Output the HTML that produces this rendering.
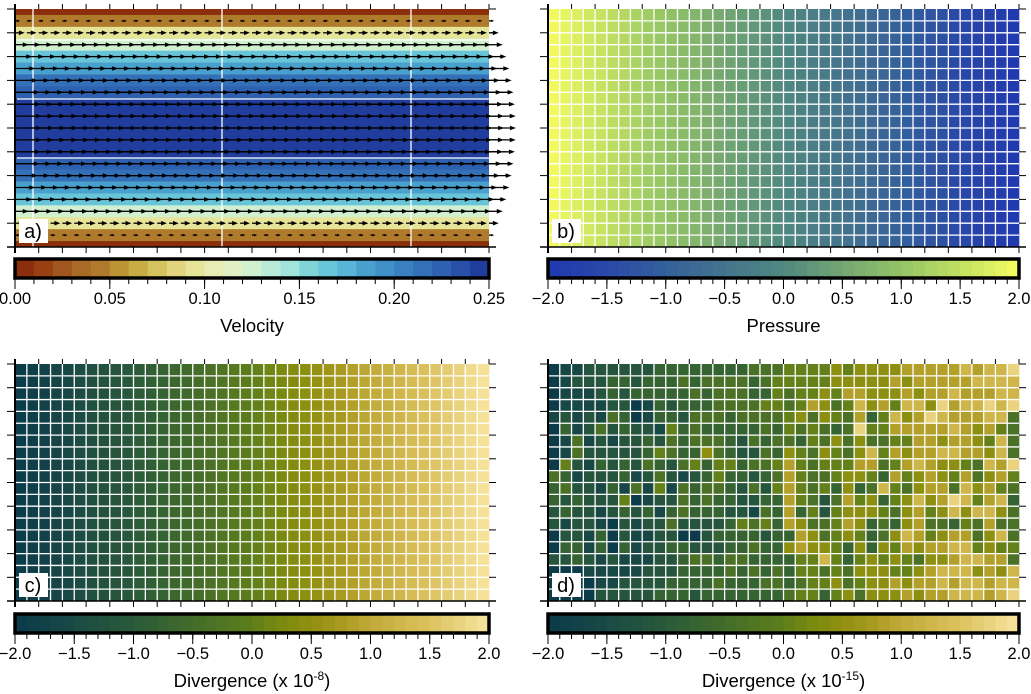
<!DOCTYPE html>
<html><head><meta charset="utf-8">
<style>
html,body{margin:0;padding:0;background:#fff;width:1031px;height:694px;overflow:hidden}
svg{display:block;font-family:"Liberation Sans",Arial,sans-serif}
</style></head>
<body>
<svg id="fig" width="1031" height="694" viewBox="0 0 1031 694" xmlns="http://www.w3.org/2000/svg"></svg>
<script>
// ---- data ----
const velocityNodes = [0.0,0.0475,0.09,0.1275,0.16,0.1875,0.21,0.2275,0.24,0.2475,0.25,0.2475,0.24,0.2275,0.21,0.1875,0.16,0.1275,0.09,0.0475,0.0];
const pressureCols = [1.95,1.85,1.75,1.65,1.55,1.45,1.35,1.25,1.15,1.05,0.95,0.85,0.75,0.65,0.55,0.45,0.35,0.25,0.15,0.05,-0.05,-0.15,-0.25,-0.35,-0.45,-0.55,-0.65,-0.75,-0.85,-0.95,-1.05,-1.15,-1.25,-1.35,-1.45,-1.55,-1.65,-1.75,-1.85,-1.95];
const divCols = [-1.95,-1.85,-1.75,-1.65,-1.55,-1.45,-1.35,-1.25,-1.15,-1.05,-0.95,-0.85,-0.75,-0.65,-0.55,-0.45,-0.35,-0.25,-0.15,-0.05,0.05,0.15,0.25,0.35,0.45,0.55,0.65,0.75,0.85,0.95,1.05,1.15,1.25,1.35,1.45,1.55,1.65,1.75,1.85,1.95];
const noisyRows = [
"0112222223333333344455556566667777787889",
"0122233233343444434555556666676777778888",
"0111232333334344433545565776667677877788",
"0111122013233344445545764586758869788989",
"1212143013324443444456465473586798777884",
"0312423221534333334354543495577777876754",
"0141212232434443243443546464455776776584",
"0142222235433643224365465468576778877684",
"0521323243245355344575455577457876654879",
"4312223124212353323475445665375676574675",
"3422131415143443242575453634854677486754",
"3232225012243433223375424756356867985783",
"2322123231343332214373525666546756868864",
"2122102122422223545376445763436744354744",
"0221302112200233332337645653468756774684",
"0331303122332223343367665363657677885655",
"2232121112234434433335585356565466788774",
"0001111122233334343435545466655678886768",
"0000112222333343334434556456676778788788",
"0000222223332333333345535646667677888789"];
const velTicks = ["0.00","0.05","0.10","0.15","0.20","0.25"];
const symTicks = ["\u22122.0","\u22121.5","\u22121.0","\u22120.5","0.0","0.5","1.0","1.5","2.0"];

const velColors = ["#8a2e0c","#984012","#a0561e","#a86a26","#b07a2c","#bc9434","#c8ac44","#d4c460","#e0d47c","#e6e498","#e6ecb4","#e0f0c4","#d0f0d0","#b8ecd8","#a0e4dc","#80d4d8","#68c4d8","#58b4d8","#4aa0cc","#4090c8","#3a80c0","#3470b8","#2e60b0","#2850a8","#203c9c"];
const presStops = [[-2,"#2038b0"],[-1.5,"#2a48a8"],[-1,"#34609c"],[-0.5,"#44748c"],[0,"#508880"],[0.5,"#74a672"],[1,"#94c466"],[1.5,"#c0e062"],[2,"#f8fc60"]];
const divStops = [[-2,"#0a3a4a"],[-1.5,"#1a4a44"],[-1,"#2a5a3a"],[-0.5,"#426c2a"],[0,"#5e7e1c"],[0.25,"#7a8a0e"],[0.5,"#909010"],[0.75,"#a89a20"],[1,"#c0aa38"],[1.5,"#dcc25e"],[2,"#f8e4a0"]];

const S = document.getElementById('fig');
const NS = "http://www.w3.org/2000/svg";
function mk(tag, attrs, parent){const e=document.createElementNS(NS,tag);for(const k in attrs)e.setAttribute(k,attrs[k]);(parent||S).appendChild(e);return e;}
function hex(c){return [1,3,5].map(i=>parseInt(c.substr(i,2),16));}
function interp(stops,v){
  if(v<=stops[0][0])return stops[0][1];
  for(let i=1;i<stops.length;i++){if(v<=stops[i][0]){const t=(v-stops[i-1][0])/(stops[i][0]-stops[i-1][0]);const a=hex(stops[i-1][1]),b=hex(stops[i][1]);return "rgb("+a.map((x,j)=>Math.round(x+(b[j]-x)*t)).join(",")+")";}}
  return stops[stops.length-1][1];
}
function quant(stops,v){const seg=Math.min(39,Math.max(0,Math.floor((v+2)/0.1)));return interp(stops,-2+seg*0.1+0.05);}
function velColor(v){return velColors[Math.min(24,Math.max(0,Math.floor(v/0.01)))];}

const P = {a:{x:15,y:9,w:474,h:238},b:{x:548,y:9,w:471,h:238},c:{x:15,y:364,w:474,h:237},d:{x:548,y:364,w:471,h:237}};
const NC=40, NR=20;

function frameTicks(p,g){
  for(let i=0;i<=20;i++){const x=p.x+i*p.w/20;
    mk('line',{x1:x,y1:p.y,x2:x,y2:p.y-5,stroke:'#000','stroke-width':1},g);
    mk('line',{x1:x,y1:p.y+p.h,x2:x,y2:p.y+p.h+6,stroke:'#000','stroke-width':1},g);}
  for(let i=0;i<=10;i++){const y=p.y+i*p.h/10;
    mk('line',{x1:p.x,y1:y,x2:p.x-8,y2:y,stroke:'#000','stroke-width':1},g);
    mk('line',{x1:p.x+p.w,y1:y,x2:p.x+p.w+7,y2:y,stroke:'#000','stroke-width':1},g);}
  mk('line',{x1:p.x,y1:p.y-5,x2:p.x,y2:p.y+p.h+6,stroke:'#000','stroke-width':2},g);
  mk('line',{x1:p.x-8,y1:p.y+p.h,x2:p.x+p.w+7,y2:p.y+p.h,stroke:'#000','stroke-width':1.5},g);
}
function label(p,t,name){
  const g=mk('g',{});
  
  
  mk('rect',{x:p.x+4,y:p.y+p.h-28,width:29,height:24,fill:'#fff'},g);
  mk('text',{x:p.x+18,y:p.y+p.h-9,'font-size':20,'text-anchor':'middle',fill:'#000'},g).textContent=t;
}
function gridCells(p,colorFn,name){
  const g=mk('g',{});
  
  
  const cw=p.w/NC, ch=p.h/NR;
  for(let r=0;r<NR;r++)for(let c=0;c<NC;c++){
    const cell=mk('rect',{x:p.x+c*cw,y:p.y+r*ch,width:cw+0.3,height:ch+0.3,fill:colorFn(r,c)},g);
    
    
  }
  for(let c=1;c<NC;c++)mk('line',{x1:p.x+c*cw,y1:p.y,x2:p.x+c*cw,y2:p.y+p.h,stroke:'#fff','stroke-width':1.3},g);
  for(let r=1;r<NR;r++)mk('line',{x1:p.x,y1:p.y+r*ch,x2:p.x+p.w,y2:p.y+r*ch,stroke:'#fff','stroke-width':1.3},g);
  frameTicks(p,g);
}
function colorbar(x,y,w,n,colorFn,ticks,minorN,title,name,sup){
  const g=mk('g',{});
  
  
  const h=19, sw=w/n;
  for(let i=0;i<n;i++)mk('rect',{x:x+i*sw,y:y,width:sw+0.4,height:h,fill:colorFn(i)},g);
  mk('rect',{x:x,y:y,width:w,height:h,fill:'none',stroke:'#000','stroke-width':3.5},g);
  for(let i=0;i<=minorN;i++){const tx=x+i*w/minorN;mk('line',{x1:tx,y1:y+h+1,x2:tx,y2:y+h+6,stroke:'#000','stroke-width':1},g);}
  const nt=ticks.length;
  ticks.forEach((t,i)=>{const tx=x+i*w/(nt-1);
    mk('line',{x1:tx,y1:y+h+1,x2:tx,y2:y+h+11,stroke:'#000','stroke-width':1},g);
    const tl=mk('text',{x:tx,y:y+h+26,'font-size':16.5,'text-anchor':'middle',fill:'#000'},g);tl.textContent=t;
    
    });
  const tt=mk('text',{x:x+w/2,y:y+h+54,'font-size':18.5,'text-anchor':'middle',fill:'#000'},g);
  
  
  if(sup){tt.textContent=title;const ts=mk('tspan',{dy:-7,'font-size':12},tt);ts.textContent=sup;const te=mk('tspan',{dy:7,'font-size':18.5},tt);te.textContent=')';}
  else tt.textContent=title;
}

// ---- panel a ----
(function(){
  const p=P.a;
  const g=mk('g',{});
  
  
  const defs=mk('defs',{},g);
  const cp=mk('clipPath',{id:'clipA'},defs);
  mk('rect',{x:p.x,y:p.y,width:p.w,height:p.h},cp);
  const bands=mk('g',{'clip-path':'url(#clipA)'},g);
  const dy=p.h/20;
  velocityNodes.forEach((v,k)=>{
    const b=mk('rect',{x:p.x,y:p.y+k*dy-dy/2,width:p.w,height:dy+0.3,fill:velColor(v)},bands);
    
    
  });
  [33,222,411].forEach(x=>mk('line',{x1:x,y1:p.y,x2:x,y2:p.y+p.h,stroke:'#fff','stroke-width':1.3},bands));
  [40,99,158].forEach(y=>mk('line',{x1:p.x+2,y1:y,x2:p.x+p.w,y2:y,stroke:'#fff','stroke-width':1.3},bands));
  const dx=p.w/40, scale=108;
  const ar=mk('g',{},g);
  
  
  velocityNodes.forEach((v,k)=>{
    if(v<=0)return;
    const y=p.y+k*dy, L=v*scale;
    for(let j=0;j<=40;j++){
      const x0=p.x+j*dx, x1=x0+L, hl=Math.min(6,L*0.6), hw=Math.min(2.3,L*0.25);
      mk('line',{x1:x0,y1:y,x2:x1-hl*0.5,y2:y,stroke:'#000','stroke-width':1.3},ar);
      mk('polygon',{points:`${x1},${y} ${x1-hl},${y-hw} ${x1-hl},${y+hw}`,fill:'#000'},ar);
    }
  });
  frameTicks(p,g);
})();
label(P.a,'a)','panel-a-label');

gridCells(P.b,(r,c)=>quant(presStops,pressureCols[c]),'pressure-panel');
label(P.b,'b)','panel-b-label');
gridCells(P.c,(r,c)=>quant(divStops,divCols[c]),'divergence-panel');
label(P.c,'c)','panel-c-label');
gridCells(P.d,(r,c)=>{const s=noisyRows[r];const d=+(s[c]||s[s.length-1]);return quant(divStops,-2+d*0.41+0.01);},'divergence-noise-panel');
label(P.d,'d)','panel-d-label');

colorbar(15,259,474,25,i=>velColors[i],velTicks,25,'Velocity','velocity-colorbar');
colorbar(548,259,471,40,i=>interp(presStops,-2+i*0.1+0.05),symTicks,40,'Pressure','pressure-colorbar');
colorbar(15,614,474,40,i=>interp(divStops,-2+i*0.1+0.05),symTicks,40,'Divergence (x 10','divergence-colorbar-c','-8');
colorbar(548,614,471,40,i=>interp(divStops,-2+i*0.1+0.05),symTicks,40,'Divergence (x 10','divergence-colorbar-d','-15');
</script>
</body></html>
